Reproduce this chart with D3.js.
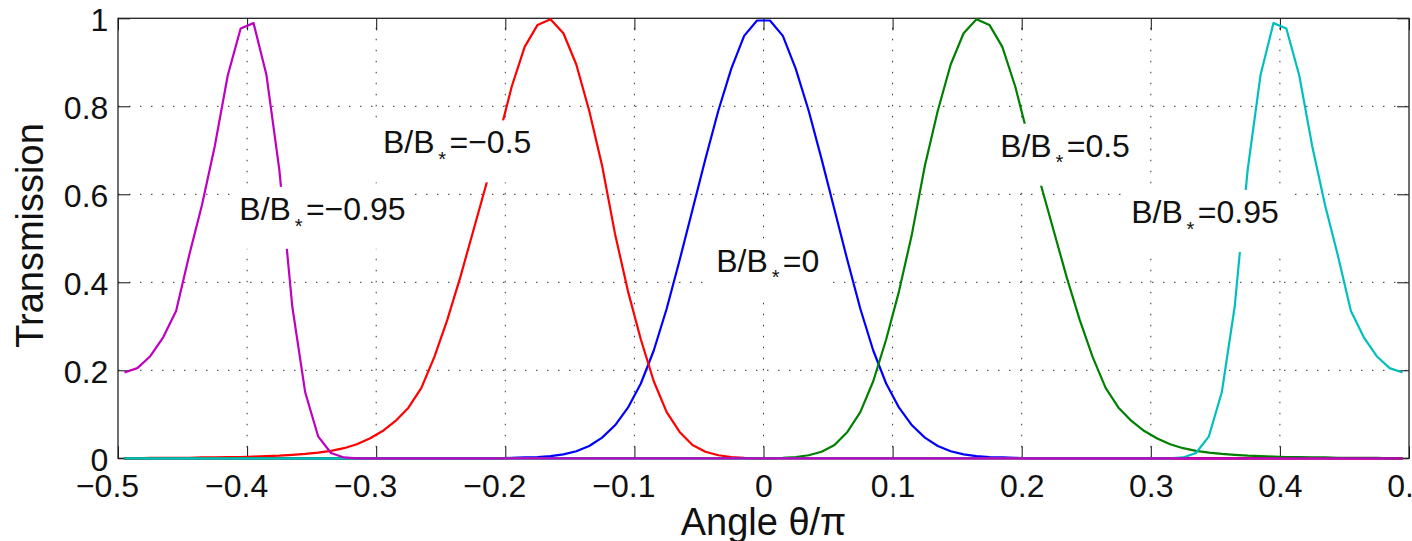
<!DOCTYPE html>
<html lang="en">
<head>
<meta charset="UTF-8">
<title>Transmission vs angle</title>
<script src="https://d3js.org/d3.v7.min.js"></script>
<style>
  body { margin: 0; background: #fff; }
  svg { display: block; font-family: "Liberation Sans", Arial, Helvetica, sans-serif; }
  .grid line { stroke: #333; stroke-width: 1; stroke-dasharray: 1.5,9.5; }
  .tick line { stroke: #111; }
</style>
</head>
<body>
<svg id="chart" width="1412" height="541"></svg>
<script>
// sample angles (theta/pi)
const angle = [
  -0.495, -0.485, -0.475, -0.465, -0.455, -0.445, -0.435, -0.425, -0.415, -0.405,
  -0.395, -0.385, -0.375, -0.365, -0.355, -0.345, -0.335, -0.325, -0.315, -0.305,
  -0.295, -0.285, -0.275, -0.265, -0.255, -0.245, -0.235, -0.225, -0.215, -0.205,
  -0.195, -0.185, -0.175, -0.165, -0.155, -0.145, -0.135, -0.125, -0.115, -0.105,
  -0.095, -0.085, -0.075, -0.065, -0.055, -0.045, -0.035, -0.025, -0.015, -0.005,
   0.005,  0.015,  0.025,  0.035,  0.045,  0.055,  0.065,  0.075,  0.085,  0.095,
   0.105,  0.115,  0.125,  0.135,  0.145,  0.155,  0.165,  0.175,  0.185,  0.195,
   0.205,  0.215,  0.225,  0.235,  0.245,  0.255,  0.265,  0.275,  0.285,  0.295,
   0.305,  0.315,  0.325,  0.335,  0.345,  0.355,  0.365,  0.375,  0.385,  0.395,
   0.405,  0.415,  0.425,  0.435,  0.445,  0.455,  0.465,  0.475,  0.485,  0.495
];

// transmission for each B/B*
const tMinus095 = [
  0.195, 0.205, 0.232, 0.275, 0.335, 0.46, 0.575, 0.71, 0.87, 0.977,
  0.989, 0.871, 0.655, 0.345, 0.15, 0.05, 0.012, 0.002, 0, 0,
  0, 0, 0, 0, 0, 0, 0, 0, 0, 0,
  0, 0, 0, 0, 0, 0, 0, 0, 0, 0,
  0, 0, 0, 0, 0, 0, 0, 0, 0, 0,
  0, 0, 0, 0, 0, 0, 0, 0, 0, 0,
  0, 0, 0, 0, 0, 0, 0, 0, 0, 0,
  0, 0, 0, 0, 0, 0, 0, 0, 0, 0,
  0, 0, 0, 0, 0, 0, 0, 0, 0, 0,
  0, 0, 0, 0, 0, 0, 0, 0, 0, 0
];
const tMinus05 = [
  0, 0, 0.001, 0.001, 0.001, 0.001, 0.002, 0.002, 0.003, 0.003,
  0.004, 0.005, 0.006, 0.008, 0.01, 0.013, 0.017, 0.023, 0.032, 0.045,
  0.062, 0.085, 0.115, 0.16, 0.23, 0.314, 0.41, 0.515, 0.62, 0.73,
  0.845, 0.935, 0.985, 0.998, 0.966, 0.895, 0.79, 0.665, 0.51, 0.38,
  0.27, 0.175, 0.105, 0.06, 0.03, 0.015, 0.007, 0.003, 0.001, 0,
  0, 0, 0, 0, 0, 0, 0, 0, 0, 0,
  0, 0, 0, 0, 0, 0, 0, 0, 0, 0,
  0, 0, 0, 0, 0, 0, 0, 0, 0, 0,
  0, 0, 0, 0, 0, 0, 0, 0, 0, 0,
  0, 0, 0, 0, 0, 0, 0, 0, 0, 0
];
const t0 = [
  0, 0, 0, 0, 0, 0, 0, 0, 0, 0,
  0, 0, 0, 0, 0, 0, 0, 0, 0, 0,
  0, 0, 0, 0, 0, 0, 0, 0, 0, 0,
  0.001, 0.002, 0.003, 0.005, 0.009, 0.016, 0.028, 0.047, 0.075, 0.115,
  0.17, 0.245, 0.34, 0.45, 0.565, 0.68, 0.79, 0.885, 0.96, 0.995,
  0.995, 0.96, 0.885, 0.79, 0.68, 0.565, 0.45, 0.34, 0.245, 0.17,
  0.115, 0.075, 0.047, 0.028, 0.016, 0.009, 0.005, 0.003, 0.002, 0.001,
  0, 0, 0, 0, 0, 0, 0, 0, 0, 0,
  0, 0, 0, 0, 0, 0, 0, 0, 0, 0,
  0, 0, 0, 0, 0, 0, 0, 0, 0, 0
];
const t05 = [
  0, 0, 0, 0, 0, 0, 0, 0, 0, 0,
  0, 0, 0, 0, 0, 0, 0, 0, 0, 0,
  0, 0, 0, 0, 0, 0, 0, 0, 0, 0,
  0, 0, 0, 0, 0, 0, 0, 0, 0, 0,
  0, 0, 0, 0, 0, 0, 0, 0, 0, 0,
  0, 0.001, 0.003, 0.007, 0.015, 0.03, 0.06, 0.105, 0.175, 0.27,
  0.38, 0.51, 0.665, 0.79, 0.895, 0.966, 0.998, 0.985, 0.935, 0.845,
  0.73, 0.62, 0.515, 0.41, 0.314, 0.23, 0.16, 0.115, 0.085, 0.062,
  0.045, 0.032, 0.023, 0.017, 0.013, 0.01, 0.008, 0.006, 0.005, 0.004,
  0.003, 0.003, 0.002, 0.002, 0.001, 0.001, 0.001, 0.001, 0, 0
];
const t095 = [
  0, 0, 0, 0, 0, 0, 0, 0, 0, 0,
  0, 0, 0, 0, 0, 0, 0, 0, 0, 0,
  0, 0, 0, 0, 0, 0, 0, 0, 0, 0,
  0, 0, 0, 0, 0, 0, 0, 0, 0, 0,
  0, 0, 0, 0, 0, 0, 0, 0, 0, 0,
  0, 0, 0, 0, 0, 0, 0, 0, 0, 0,
  0, 0, 0, 0, 0, 0, 0, 0, 0, 0,
  0, 0, 0, 0, 0, 0, 0, 0, 0, 0,
  0, 0, 0.002, 0.012, 0.05, 0.15, 0.345, 0.655, 0.871, 0.989,
  0.977, 0.87, 0.71, 0.575, 0.46, 0.335, 0.275, 0.232, 0.205, 0.195
];

// drawing order: last one ends up on top
const seriesValues = [t0, tMinus05, t05, t095, tMinus095];
const seriesColors = ["#0000ff", "#ff0000", "#008000", "#00bfbf", "#bf00bf"];

// curve labels (left edge of text, baseline)
const labelValues = ["\u22120.95", "\u22120.5", "0", "0.5", "0.95"];
const labelX = [-0.406, -0.2948, -0.0366, 0.1833, 0.2848];
const labelY = [0.542, 0.693, 0.424, 0.6855, 0.535];

const xTicks = [-0.5, -0.4, -0.3, -0.2, -0.1, 0, 0.1, 0.2, 0.3, 0.4, 0.5];
const xTickLabels = ["\u22120.5", "\u22120.4", "\u22120.3", "\u22120.2", "\u22120.1", "0", "0.1", "0.2", "0.3", "0.4", "0.5"];
const yTicks = [0, 0.2, 0.4, 0.6, 0.8, 1];
const yTickLabels = ["0", "0.2", "0.4", "0.6", "0.8", "1"];

const margin = {top: 18.3, right: 3, bottom: 82.7, left: 118};
const width = 1412 - margin.left - margin.right;
const height = 541 - margin.top - margin.bottom;

const svg = d3.select("#chart");
const g = svg.append("g").attr("transform", `translate(${margin.left},${margin.top})`);

const x = d3.scaleLinear().domain([-0.5, 0.5]).range([0, width]);
const y = d3.scaleLinear().domain([0, 1]).range([height, 0]);

// dotted grid
g.append("g").attr("class", "grid")
  .selectAll("line").data(xTicks.slice(1, -1)).join("line")
  .attr("x1", d => x(d)).attr("x2", d => x(d))
  .attr("y1", height).attr("y2", 0);
g.append("g").attr("class", "grid")
  .selectAll("line").data(yTicks.slice(1, -1)).join("line")
  .attr("x1", 0).attr("x2", width)
  .attr("y1", d => y(d)).attr("y2", d => y(d));

// axes with inward ticks on all four sides
const fontSize = 32;
const xAxis = g.append("g").attr("transform", `translate(0,${height})`)
  .call(d3.axisBottom(x).tickValues(xTicks).tickSizeInner(-12).tickSizeOuter(0)
    .tickPadding(15.5).tickFormat((d, i) => xTickLabels[i]));
xAxis.selectAll("text")
  .attr("dx", (d, i) => xTickLabels[i].startsWith("\u2212") ? -11 : 0);

g.append("g")
  .call(d3.axisTop(x).tickValues(xTicks).tickSizeInner(-12).tickSizeOuter(0).tickFormat(""));

const yAxis = g.append("g")
  .call(d3.axisLeft(y).tickValues(yTicks).tickSizeInner(-12).tickSizeOuter(0)
    .tickPadding(9.7).tickFormat((d, i) => yTickLabels[i]));
yAxis.selectAll("text").attr("dy", "0.38em");

g.append("g").attr("transform", `translate(${width},0)`)
  .call(d3.axisRight(y).tickValues(yTicks).tickSizeInner(-12).tickSizeOuter(0).tickFormat(""));

g.selectAll(".domain").remove();
g.selectAll(".tick text")
  .attr("font-size", fontSize).attr("fill", "#111")
  .attr("font-family", "Liberation Sans, Arial, Helvetica, sans-serif");

// frame
g.append("rect")
  .attr("x", 0).attr("y", 0).attr("width", width).attr("height", height)
  .attr("fill", "none").attr("stroke", "#222").attr("stroke-width", 1.3);

// curves
const line = d3.line().x((d, i) => x(angle[i])).y(d => y(d));
g.append("g").selectAll("path").data(seriesValues).join("path")
  .attr("d", d => line(d))
  .attr("fill", "none")
  .attr("stroke", (d, i) => seriesColors[i])
  .attr("stroke-width", 2.2)
  .attr("stroke-linejoin", "round");

// labels with white boxes
labelValues.forEach((v, i) => {
  const lg = g.append("g");
  const box = lg.append("rect").attr("fill", "#fff");
  const bx = x(labelX[i]), by = y(labelY[i]);
  const t = lg.append("text")
    .attr("x", bx).attr("y", by)
    .attr("font-size", fontSize).attr("fill", "#111");
  t.append("tspan").text("B/B");
  t.append("tspan").attr("font-size", 20).attr("dx", 3.8).attr("dy", 12.7).text("*");
  t.append("tspan").attr("dx", 3.4).attr("dy", -12.7).text("=" + v);
  const bb = t.node().getBBox();
  box.attr("x", bb.x - 8).attr("width", bb.width + 16)
    .attr("y", by - 33).attr("height", 62);
});

// axis titles
svg.append("text")
  .attr("x", margin.left + x(0)).attr("y", 535)
  .attr("text-anchor", "middle").attr("font-size", 38).attr("fill", "#111")
  .text("Angle \u03b8/\u03c0");
svg.append("text")
  .attr("transform", "rotate(-90)")
  .attr("x", -235.5).attr("y", 43)
  .attr("text-anchor", "middle").attr("font-size", 38).attr("fill", "#111")
  .text("Transmission");
</script>
</body>
</html>
